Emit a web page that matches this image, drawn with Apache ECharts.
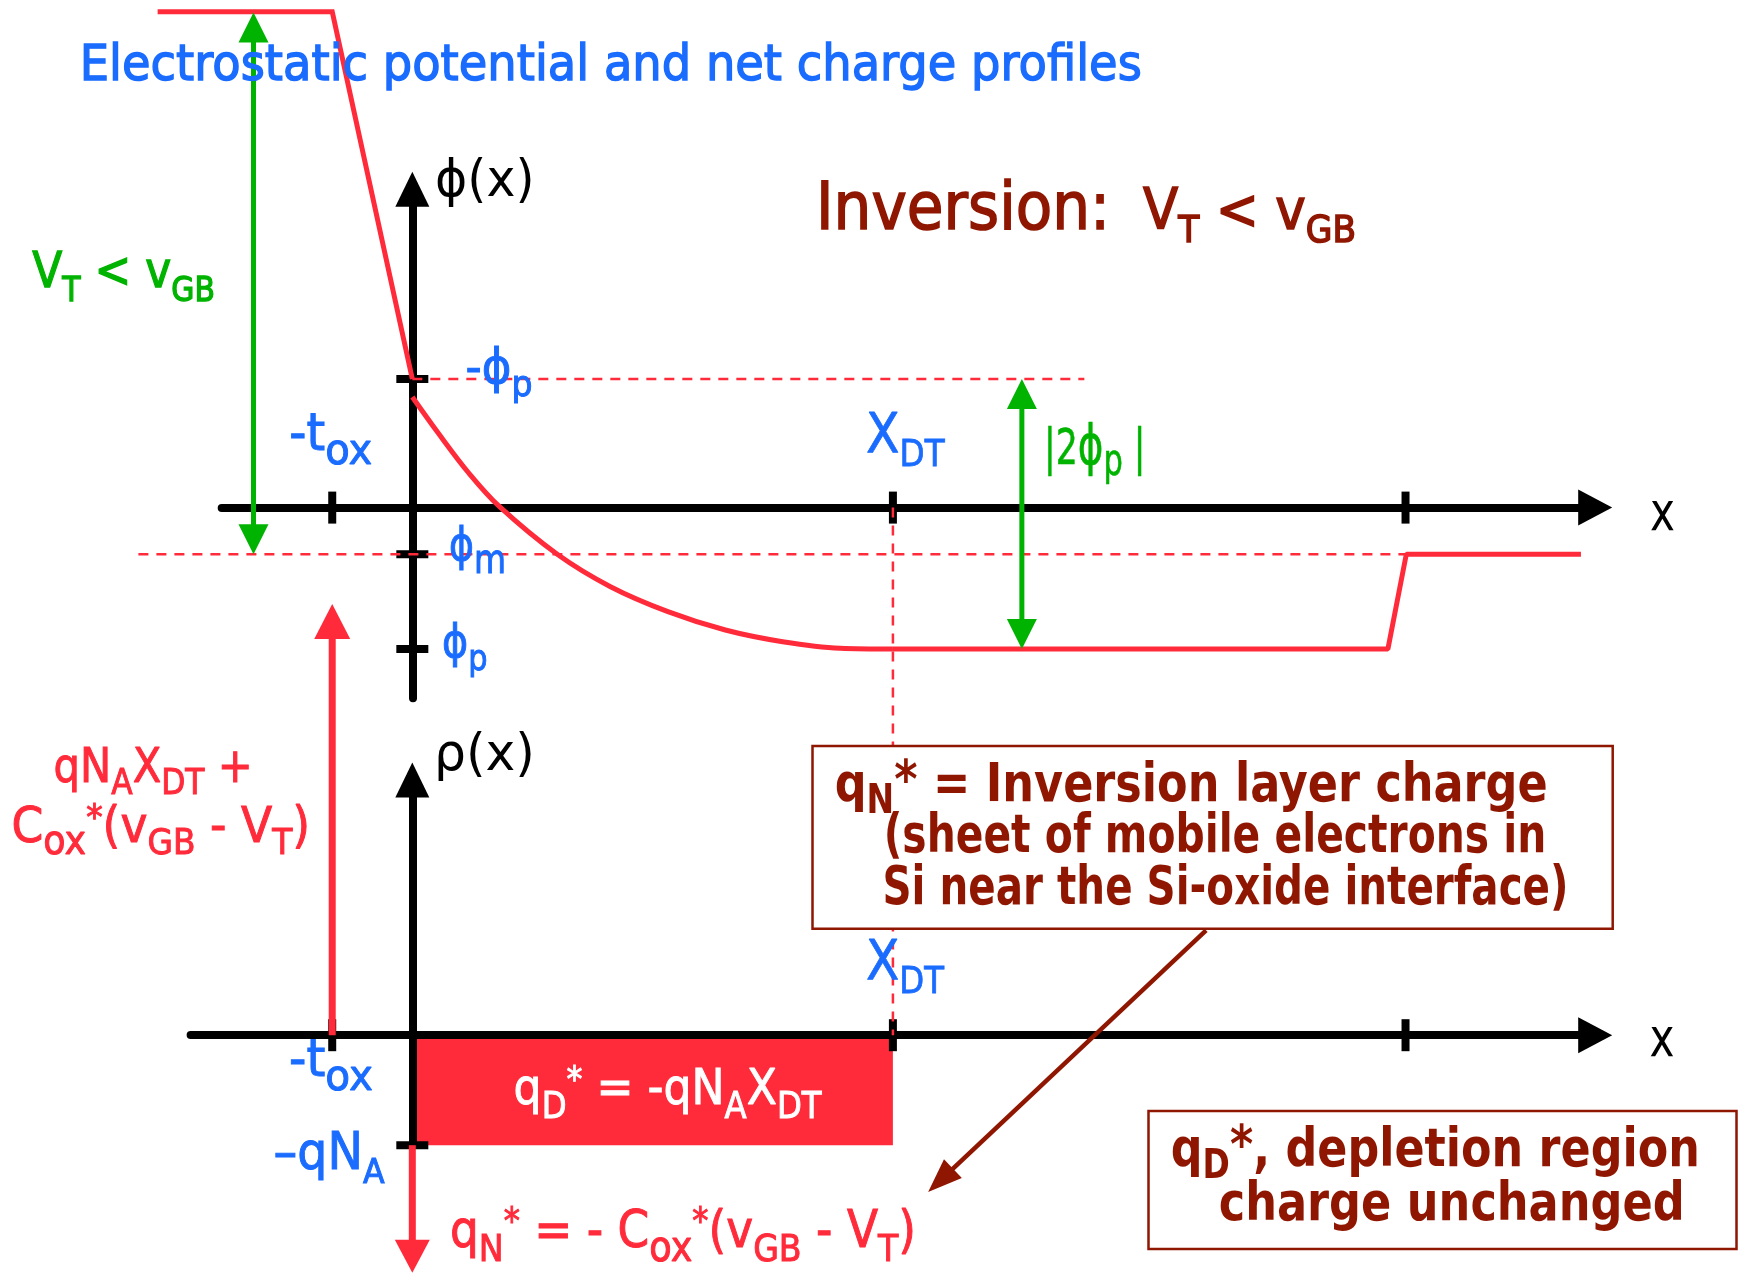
<!DOCTYPE html>
<html>
<head>
<meta charset="utf-8">
<script src="https://cdn.jsdelivr.net/npm/echarts@6.0.0/dist/echarts.min.js"></script>
<style>
  html, body { margin: 0; padding: 0; background: #ffffff; }
  #chart { width: 1738px; height: 1273px; }
</style>
</head>
<body>
<div id="chart"></div>
<script>
// ---------------- values (position x, potential phi, charge density rho) ----------------
const X_TOX = -1;        // gate / oxide edge, -t_ox
const X_DT = 6;          // depletion edge at threshold
const X_BACK = 12.4;     // back contact
const PHI_SURF = 1.0;    // -phi_p : surface potential at inversion
const PHI_M = -0.362;    // phi_m
const PHI_P = -1.10;     // phi_p : bulk potential
const PHI_GATE = 3.856;  // gate potential level
const QNA = 1;           // q N_A

// potential profile phi(x)
const gateOxideX   = [-3.18, X_TOX, 0];
const gateOxidePhi = [PHI_GATE, PHI_GATE, PHI_SURF];
const siliconX   = [0, 0.325, 0.707, 1.089, 1.805, 2.474, 3.191, 3.908, 4.624, 5.341, X_DT];
const siliconPhi = [0.86, 0.578, 0.267, 0.007, -0.361, -0.615, -0.809, -0.952, -1.043, -1.094, PHI_P];
const bulkX   = [X_DT, 12.18, 12.41, 14.59];
const bulkPhi = [PHI_P, PHI_P, PHI_M, PHI_M];

// dashed reference levels
const surfLevel  = [[0, PHI_SURF], [8.39, PHI_SURF]];
const metalLevel = [[-3.42, PHI_M], [12.41, PHI_M]];

// tick positions
const phiXTicks = [X_TOX, X_DT, X_BACK];
const phiYTicks = [PHI_SURF, PHI_M, PHI_P];
const rhoXTicks = [X_TOX, X_DT, X_BACK];
const rhoYTicks = [-QNA];

// arrows [x1, y1, x2, y2]
const greenArrows   = [[-1.983, 3.85, -1.983, PHI_M], [7.61, PHI_SURF, 7.61, PHI_P]];
const chargeUpArrow = [[X_TOX, 0, X_TOX, 3.92]];
const chargeDnArrow = [[0, -QNA, 0, -2.16]];
const noteArrow     = [[9.91, 0.952, 6.44, -1.425]];

// depletion charge block [x1, rho1, x2, rho2]
const depletionBlock = [[0, 0, X_DT, -QNA]];

// ---------------- styling ----------------
const RED = '#ff2a3a', BLUE = '#1a6cff', GREEN = '#00b300', DARK = '#8f1600', BLACK = '#000000';
const FONT = '"DejaVu Sans", sans-serif';
const FONT_NARROW = '"DejaVu Sans Condensed", "DejaVu Sans", sans-serif';
const MID = 0.276;       // canvas 'middle' baseline offset, in em

const zip = (xs, ys) => xs.map((x, i) => [x, ys[i]]);

function arrowRenderer(color, width, headW, headL, both) {
  return function (params, api) {
    const a = api.coord([api.value(0), api.value(1)]);
    const b = api.coord([api.value(2), api.value(3)]);
    const dx = b[0] - a[0], dy = b[1] - a[1];
    const len = Math.hypot(dx, dy) || 1;
    const ux = dx / len, uy = dy / len, nx = -uy, ny = ux;
    const head = (tip, sx, sy) => ({
      type: 'polygon',
      shape: { points: [
        [tip[0], tip[1]],
        [tip[0] - sx * headL + nx * headW / 2, tip[1] - sy * headL + ny * headW / 2],
        [tip[0] - sx * headL - nx * headW / 2, tip[1] - sy * headL - ny * headW / 2]
      ] },
      style: { fill: color }
    });
    const s = both ? [a[0] + ux * headL * 0.8, a[1] + uy * headL * 0.8] : a;
    const e = [b[0] - ux * headL * 0.8, b[1] - uy * headL * 0.8];
    const children = [
      { type: 'line', shape: { x1: s[0], y1: s[1], x2: e[0], y2: e[1] }, style: { stroke: color, lineWidth: width } },
      head(b, ux, uy)
    ];
    if (both) children.push(head(a, -ux, -uy));
    return { type: 'group', children };
  };
}

function blockRenderer(params, api) {
  const p0 = api.coord([api.value(0), api.value(1)]);
  const p1 = api.coord([api.value(2), api.value(3)]);
  return {
    type: 'rect',
    shape: { x: Math.min(p0[0], p1[0]), y: Math.min(p0[1], p1[1]),
             width: Math.abs(p1[0] - p0[0]), height: Math.abs(p1[1] - p0[1]) },
    style: { fill: RED }
  };
}

// polyline through all points of the series (drawn once, not clipped to the grid)
function polylineSeries(xi, points, style, z) {
  return {
    type: 'custom', xAxisIndex: xi, yAxisIndex: xi, z: z, silent: true, clip: false,
    encode: { x: 0, y: 1 }, data: points,
    renderItem: function (params, api) {
      if (params.dataIndex !== 0) return null;
      return { type: 'polyline', shape: { points: points.map(p => api.coord(p)) },
               style: Object.assign({ fill: null, lineJoin: 'miter' }, style) };
    }
  };
}

// rich text label with sub/superscripts, condensed to a given width
const measureCtx = document.createElement('canvas').getContext('2d');
function fontStr(size, bold, fam) { return (bold ? 'bold ' : '') + size + 'px ' + fam; }
function textLabel(o) {
  const F = o.size, fam = o.fam || FONT, sw = o.stroke || 0;
  const rich = {};
  let str = '', natural = 0;
  o.parts.forEach((p, i) => {
    const s = p[1] || F, d = p[2] || 0;
    const font = fontStr(s, o.bold, fam);
    const st = { font: font, fill: o.color, verticalAlign: 'bottom',
                 height: F - 2 * MID * F + 2 * MID * s - 2 * d, lineHeight: F };
    if (sw) { st.stroke = o.color; st.lineWidth = sw; }
    rich['t' + i] = st;
    str += '{t' + i + '|' + p[0] + '}';
    measureCtx.font = font;
    natural += measureCtx.measureText(p[0]).width;
  });
  return {
    type: 'text', x: o.x, y: o.base - (0.5 + MID) * F, z: 101,
    scaleX: natural > 0 ? o.w / natural : 1, scaleY: 1,
    style: { text: str, rich: rich, font: fontStr(F, o.bold, fam), fill: o.color,
             lineHeight: F, align: 'left', verticalAlign: 'top' }
  };
}

const labels = [
  { x: 79.8, base: 80.5, w: 1062, size: 50, stroke: 1.4, color: BLUE, parts: [['Electrostatic potential and net charge profiles']] },
  { x: 435, base: 197, w: 99.5, size: 52, color: BLACK, parts: [['ϕ(x)']] },
  { x: 434, base: 771, w: 101, size: 52, color: BLACK, parts: [['ρ(x)']] },
  { x: 816, base: 230, w: 540, size: 66, stroke: 1.6, color: DARK,
    parts: [['Inversion:'], ['  V', 57], ['T', 38, 12.7], [' < v', 57], ['GB', 38, 12.7]] },
  { x: 32.3, base: 288.3, w: 182.7, size: 50, stroke: 1.3, color: GREEN,
    parts: [['V'], ['T', 34, 13.4], [' < v'], ['GB', 34, 13.4]] },
  { x: 465.5, base: 383.5, w: 67, size: 47.5, stroke: 1, color: BLUE, parts: [['-ϕ'], ['p', 35, 12.8]] },
  { x: 449, base: 561, w: 57, size: 46, stroke: 1, color: BLUE, parts: [['ϕ'], ['m', 40, 12.5]] },
  { x: 442, base: 658, w: 45.5, size: 47, stroke: 1, color: BLUE, parts: [['ϕ'], ['p', 36, 12.5]] },
  { x: 289.3, base: 451, w: 83, size: 51, stroke: 1, color: BLUE, parts: [['-t'], ['ox', 43, 13.5]] },
  { x: 289, base: 1077, w: 84, size: 51, stroke: 1, color: BLUE, parts: [['-t'], ['ox', 43, 13.5]] },
  { x: 866, base: 453.3, w: 78.6, size: 55, stroke: 0.8, color: BLUE, parts: [['X'], ['DT', 36.6, 13.4]] },
  { x: 866, base: 980, w: 78, size: 55, stroke: 0.8, color: BLUE, parts: [['X'], ['DT', 36.6, 14]] },
  { x: 1044, base: 465, w: 101.5, size: 50, stroke: 0.6, color: GREEN, parts: [['|2'], ['ϕ', 56], ['p', 44, 11], [' |']] },
  { x: 1650, base: 530.5, w: 25, size: 53, color: BLACK, parts: [['x']] },
  { x: 1649.5, base: 1057, w: 25, size: 53, color: BLACK, parts: [['x']] },
  { x: 53.6, base: 783, w: 199, size: 48, stroke: 1, color: RED,
    parts: [['qN'], ['A', 36, 11.6], ['X'], ['DT', 36, 11.6], [' +']] },
  { x: 11.5, base: 843, w: 298.5, size: 50, stroke: 1, color: RED,
    parts: [['C'], ['ox', 40, 11.6], ['*', 36, -13], ['(v'], ['GB', 36, 11.6], [' - V'], ['T', 36, 11.6], [')']] },
  { x: 513.6, base: 1105, w: 308, size: 50, stroke: 1, color: '#ffffff',
    parts: [['q'], ['D', 36.6, 13.3], ['*', 36, -13], [' = -qN'], ['A', 36.6, 13.3], ['X'], ['DT', 36.6, 13.3]] },
  { x: 273.6, base: 1170, w: 111, size: 51, stroke: 1, color: BLUE, parts: [['–qN'], ['A', 34, 14]] },
  { x: 450, base: 1248, w: 466, size: 52, stroke: 1, color: RED,
    parts: [['q'], ['N', 38, 13.3], ['*', 37, -13], [' = - C'], ['ox', 42, 13.3], ['*', 37, -13],
            ['(v'], ['GB', 38, 13.3], [' - V'], ['T', 38, 13.3], [')']] },
  { x: 834.7, base: 802, w: 713, size: 54, bold: true, fam: FONT_NARROW, color: DARK,
    parts: [['q'], ['N', 40, 12], ['*', 54, -3], [' = Inversion layer charge']] },
  { x: 883.7, base: 853.3, w: 662.7, size: 54, bold: true, fam: FONT_NARROW, color: DARK,
    parts: [['(sheet of mobile electrons in']] },
  { x: 882.5, base: 904.7, w: 686, size: 54, bold: true, fam: FONT_NARROW, color: DARK,
    parts: [['Si near the Si-oxide interface)']] },
  { x: 1170.8, base: 1167, w: 529, size: 54, bold: true, fam: FONT_NARROW, color: DARK,
    parts: [['q'], ['D', 40, 12], ['*', 54, -3], [', depletion region']] },
  { x: 1218.7, base: 1221, w: 466, size: 54, bold: true, fam: FONT_NARROW, color: DARK,
    parts: [['charge unchanged']] }
];

const boxes = [
  { type: 'rect', z: 100, shape: { x: 812.5, y: 746, width: 800.2, height: 182.8 },
    style: { fill: '#ffffff', stroke: DARK, lineWidth: 2.5 } },
  { type: 'rect', z: 100, shape: { x: 1148.5, y: 1111, width: 588, height: 138 },
    style: { fill: '#ffffff', stroke: DARK, lineWidth: 2.5 } }
];

function axisLine(arrow) {
  return { show: true, onZero: true, symbol: ['none', 'triangle'], symbolSize: arrow,
           lineStyle: { color: BLACK, width: 8 } };
}
const hidden = { axisTick: { show: false }, axisLabel: { show: false }, splitLine: { show: false } };

const tickSeries = (xi, data, size) => ({
  type: 'scatter', xAxisIndex: xi, yAxisIndex: xi, z: 4, silent: true, clip: false,
  symbol: 'rect', symbolSize: size, itemStyle: { color: BLACK, opacity: 1 }, data: data
});
const plainLine = (xi, data, style, extra) => Object.assign({
  type: 'line', xAxisIndex: xi, yAxisIndex: xi, z: 6, silent: true, clip: false,
  symbol: 'none', lineStyle: style, data: data, emphasis: { disabled: true }
}, extra || {});
const DASH = { color: RED, width: 2.5, type: [10, 8] };
const CURVE = { color: RED, width: 5 };

const option = {
  animation: false,
  backgroundColor: '#ffffff',
  grid: [
    { left: 221.7, right: 142.8, top: 189.2, bottom: 574.7, outerBoundsMode: 'none' },
    { left: 190.6, right: 142.8, top: 780.1, bottom: 127.8, outerBoundsMode: 'none' }
  ],
  xAxis: [
    Object.assign({ gridIndex: 0, type: 'value', min: -2.380, max: 14.768, z: 3, axisLine: axisLine([36, 34]) }, hidden),
    Object.assign({ gridIndex: 1, type: 'value', min: -2.768, max: 14.768, z: 3, axisLine: axisLine([36, 34]) }, hidden)
  ],
  yAxis: [
    Object.assign({ gridIndex: 0, type: 'value', min: -1.483, max: 2.476, z: 3, axisLine: axisLine([34, 35]) }, hidden),
    Object.assign({ gridIndex: 1, type: 'value', min: -1, max: 2.319, z: 3, axisLine: axisLine([34, 35]) }, hidden)
  ],
  series: [
    { type: 'custom', xAxisIndex: 1, yAxisIndex: 1, z: 1, silent: true,
      renderItem: blockRenderer, encode: { x: [0, 2], y: [1, 3] }, data: depletionBlock },
    tickSeries(0, phiXTicks.map(x => [x, 0]), [8, 32]),
    tickSeries(0, phiYTicks.map(v => [0, v]), [32, 8]),
    tickSeries(1, rhoXTicks.map(x => [x, 0]), [8, 32]),
    tickSeries(1, rhoYTicks.map(v => [0, v]), [32, 8]),
    plainLine(0, surfLevel, DASH),
    polylineSeries(0, metalLevel, { stroke: RED, lineWidth: 2.5, lineDash: [10, 8] }, 6),
    plainLine(0, [], DASH, { id: 'xdt-link' }),
    polylineSeries(0, zip(gateOxideX, gateOxidePhi), { stroke: RED, lineWidth: 5 }, 7),
    plainLine(0, zip(siliconX, siliconPhi), CURVE, { z: 7, smooth: 0.35 }),
    plainLine(0, zip(bulkX, bulkPhi), CURVE, { z: 7 }),
    { type: 'custom', xAxisIndex: 0, yAxisIndex: 0, z: 8, silent: true,
      renderItem: arrowRenderer(GREEN, 5, 30, 30, true), encode: { x: [0, 2], y: [1, 3] }, data: greenArrows },
    { type: 'custom', xAxisIndex: 1, yAxisIndex: 1, z: 8, silent: true,
      renderItem: arrowRenderer(RED, 7, 36, 35, false), encode: { x: [0, 2], y: [1, 3] }, data: chargeUpArrow },
    { type: 'custom', xAxisIndex: 1, yAxisIndex: 1, z: 8, silent: true,
      renderItem: arrowRenderer(RED, 7, 35, 33, false), encode: { x: [0, 2], y: [1, 3] }, data: chargeDnArrow },
    { type: 'custom', xAxisIndex: 1, yAxisIndex: 1, z: 8, silent: true,
      renderItem: arrowRenderer(DARK, 4.5, 26, 34, false), encode: { x: [0, 2], y: [1, 3] }, data: noteArrow }
  ],
  graphic: { elements: boxes.concat(labels.map(textLabel)) }
};

const chart = echarts.init(document.getElementById('chart'), null, { renderer: 'canvas' });
chart.setOption(option);

// dashed X_DT guide joining the phi(x) axis to the rho(x) axis
const rhoAxisPx = chart.convertToPixel({ gridIndex: 1 }, [X_DT, 0])[1];
const phiAtRhoAxis = chart.convertFromPixel({ gridIndex: 0 }, [0, rhoAxisPx])[1];
chart.setOption({ series: [{ id: 'xdt-link', data: [[X_DT, 0], [X_DT, phiAtRhoAxis]] }] });
</script>
</body>
</html>
